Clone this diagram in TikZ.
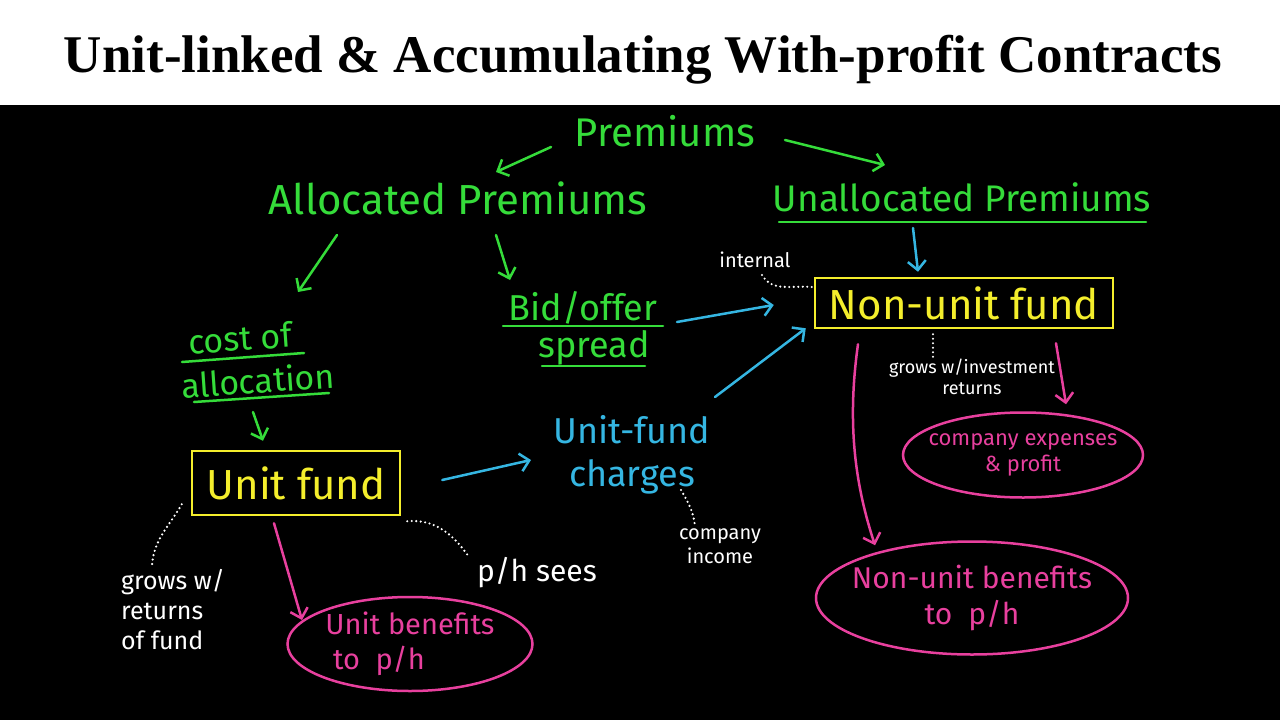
\documentclass[tikz,border=0pt]{standalone}
\usepackage{fontspec}
\setmainfont{Liberation Serif}
\newfontfamily\hand{Fira Sans}
\usetikzlibrary{calc}
\usetikzlibrary{arrows.meta,shapes.geometric}
\definecolor{chalkgreen}{HTML}{35DC3A}
\definecolor{chalkyellow}{HTML}{F4EE2C}
\definecolor{chalkblue}{HTML}{35B6E2}
\definecolor{chalkpink}{HTML}{E8409E}
\def\hw#1{\hand\fontsize{#1}{1.2\dimexpr#1pt\relax}\selectfont}

\tikzset{
  greenlbl/.style={text=chalkgreen, inner sep=0pt, font=\hw{40}},
  fundbox/.style={draw=chalkyellow, line width=2.5pt, text=chalkyellow, inner sep=0pt, font=\hw{42}},
  pinkoval/.style={ellipse, draw=chalkpink, line width=2.5pt, text=chalkpink, inner xsep=-20pt, inner ysep=0pt, align=center},
  note/.style={text=white, inner sep=0pt, align=center},
  ink/.style={line width=2.5pt, line cap=round, -{Straight Barb[length=9pt,width=18pt]}},
  garrow/.style={ink, chalkgreen},
  barrow/.style={ink, chalkblue},
  parrow/.style={ink, chalkpink},
  uline/.style={chalkgreen, line width=2.5pt, line cap=round},
  dots/.style={white, line width=2.4pt, line cap=round, dash pattern=on 0pt off 4.5pt}
}

\begin{document}
\begin{tikzpicture}[x=1pt, y=-1pt]
\useasboundingbox (0,0) rectangle (1280,720);
\fill[white] (0,0) rectangle (1280,105);
\fill[black] (0,105) rectangle (1280,720);

% title
\node[font=\bfseries\fontsize{53}{60}\selectfont, inner sep=0pt] (title) at (643,60) {Unit-linked \& Accumulating With-profit Contracts};

% premiums
\node[greenlbl] (prem) at (665,131) {Premiums};
\node[greenlbl, font=\hw{42}] (alloc) at (458,198) {Allocated Premiums};
\node[greenlbl, font=\hw{37}] (unalloc) at (962,197) {Unallocated Premiums};
\draw[uline] ($(unalloc)+(-183,25)$) -- ($(unalloc)+(184,25)$);

\node[greenlbl, font=\hw{36}] (bid) at (583,308) {Bid/offer};
\node[greenlbl, font=\hw{36}] (spread) at (594,348) {spread};
\draw[uline] ($(bid)+(-80,18)$) -- ($(bid)+(80,18)$);
\draw[uline] ($(spread)+(-52,18)$) -- ($(spread)+(51,18)$);

\node[greenlbl, font=\hw{34}, rotate=4] (cost) at (240,338) {cost of};
\node[greenlbl, font=\hw{34}, rotate=4] (allocn) at (258,380) {allocation};
\draw[uline] ($(cost)+(-58,24)$) -- ($(cost)+(64,15)$);
\draw[uline] ($(allocn)+(-64,22)$) -- ($(allocn)+(71,13)$);

% funds
\node[fundbox, minimum width=298, minimum height=50] (nuf) at (964,303) {Non-unit fund};
\node[fundbox, minimum width=208, minimum height=64] (uf) at (296,483) {Unit fund};
\node[text=chalkblue, inner sep=0pt, align=center, font=\hw{36}] (chg) at (632,455) {Unit-fund\\charges};

% benefits
\node[pinkoval, minimum width=245, minimum height=94, font=\hw{29}, align=left] (ub) at (410,644) {Unit benefits\\\ to \ p/h};
\node[pinkoval, minimum width=240, minimum height=85, font=\hw{22}] (exp) at (1023,455) {company expenses\\\& profit};
\node[pinkoval, minimum width=312, minimum height=113, font=\hw{30}] (nub) at (972,598) {Non-unit benefits\\to \ p/h};

% notes
\node[note, font=\hw{20}] (intl) at (755,260) {internal};
\node[note, font=\hw{18}] (grinv) at (972,377) {grows w/investment\\returns};
\node[note, font=\hw{20}] (inc) at (720,546) {company\\income};
\node[note, font=\hw{30}] (phsees) at (537,573) {p/h sees};
\node[note, font=\hw{25}, align=left] (grret) at (173,610) {grows w/\\returns\\of fund};

% arrows
\draw[garrow] ($(prem)+(-114,16)$) -- ($(alloc)+(38,-26)$);
\draw[garrow] ($(prem)+(120,9)$) -- ($(unalloc)+(-77,-32)$);
\draw[garrow] ($(alloc)+(-121,37)$) -- ($(cost)+(58,-46)$);
\draw[garrow] ($(alloc)+(38,37)$) -- ($(bid)+(-73,-28)$);
\draw[barrow] ($(unalloc)+(-49,31)$) -- ($(nuf.north)+(-46,-5)$);
\draw[garrow] ($(allocn)+(-5,32)$) -- ($(uf.north)+(-33,-9)$);
\draw[barrow] ($(uf.east)+(41,-3)$) -- ($(chg)+(-101,5)$);
\draw[barrow] ($(bid)+(94,14)$) -- ($(nuf.west)+(-40,2)$);
\draw[barrow] ($(chg)+(83,-58)$) -- ($(nuf.south west)+(-8,-1)$);
\draw[parrow] ($(nuf.south)+(92,14)$) -- ($(exp.north)+(43,-7)$);
\draw[parrow] ($(nuf.south)+(-106,15)$) .. controls ($(nuf.south)+(-118,100)$) and ($(nub.north)+(-115,-50)$) .. ($(nub.north)+(-97,5)$);
\draw[parrow] ($(uf.south)+(-22,7)$) -- ($(ub)+(-108,-24)$);

% dotted
\draw[dots] ($(intl)+(7,15)$) to[out=-60, in=175] ($(nuf.west)+(-2,-16)$);
\draw[dots] ($(nuf.south)+(-31,5)$) -- ($(grinv)+(-39,-17)$);
\draw[dots] ($(chg)+(49,35)$) to[out=-60, in=95] ($(inc)+(-25,-19)$);
\draw[dots] ($(uf.south west)+(-9,-12)$) to[out=-120, in=85] ($(grret)+(-21,-45)$);
\draw[dots] ($(uf.south east)+(6,5)$) to[out=5, in=125] ($(phsees)+(-68,-16)$);

\end{tikzpicture}
\end{document}
